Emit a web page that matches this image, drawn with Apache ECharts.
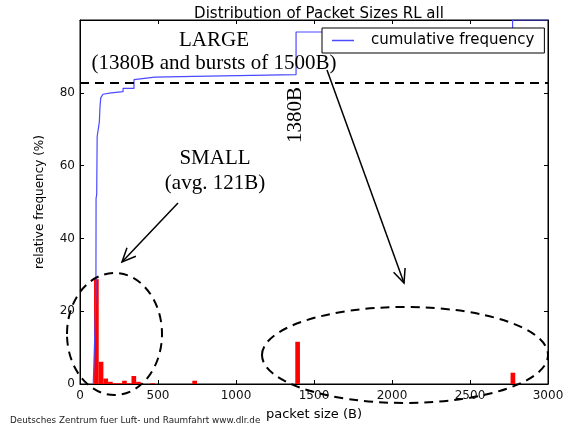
<!DOCTYPE html>
<html>
<head>
<meta charset="utf-8">
<script src="https://cdn.jsdelivr.net/npm/echarts@6/dist/echarts.min.js"></script>
<style>html,body{margin:0;padding:0;background:#fff}#c{width:576px;height:432px}</style>
</head>
<body>
<div id="c"></div>
<script>
// Histogram bins (packet size, B) and relative frequency (%)
var binWidth = 30;
var binStart = [90, 120, 150, 180, 210, 240, 270, 300, 330, 360, 450, 720, 1380, 2760];
var binHeight = [28.8, 6.1, 1.5, 0.6, 0.2, 0.2, 0.9, 0.2, 2.2, 0.6, 0.2, 0.9, 11.6, 3.1];
// Cumulative frequency curve
var cumX = [85, 96, 102, 103, 107, 110, 124, 128, 133, 147, 200, 276, 276, 346, 346, 480, 731, 731, 1385, 1385, 2773, 2773, 3000];
var cumY = [0, 15, 25, 51, 52, 68, 72, 76, 78.6, 79.6, 80, 80.3, 81.2, 81.2, 83.6, 84.3, 84.5, 85, 85, 96.7, 96.7, 100, 100];
var thresholdY = 82.7;
var xTicks = [0, 500, 1000, 1500, 2000, 2500, 3000];
var yTicks = [0, 20, 40, 60, 80];

var chart = echarts.init(document.getElementById('c'), null, {renderer: 'canvas'});

var barData = binStart.map(function (s, i) { return [s, s + binWidth, binHeight[i]]; });
var cumData = cumX.map(function (x, i) { return [x, cumY[i]]; });

function arrow(x1, y1, x2, y2) {
  var ang = Math.atan2(y2 - y1, x2 - x1);
  var L = 15, a = 0.42;
  var p1 = [x2 - L * Math.cos(ang - a), y2 - L * Math.sin(ang - a)];
  var p2 = [x2 - L * Math.cos(ang + a), y2 - L * Math.sin(ang + a)];
  var st = {stroke: '#000', lineWidth: 1.5, fill: null};
  return [
    {type: 'line', shape: {x1: x1, y1: y1, x2: x2, y2: y2}, style: st, z: 100},
    {type: 'polyline', shape: {points: [p1, [x2, y2], p2]}, style: st, z: 100}
  ];
}

var serif = 'Liberation Serif, Times New Roman, serif';
function serifText(t, x, y, z) {
  return {type: 'text', style: {text: t, x: x, y: y, font: '21px ' + serif, fill: '#000', align: 'center', verticalAlign: 'middle'}, z: z || 100};
}
var graphics = [
  serifText('LARGE', 214, 40),
  serifText('(1380B and bursts of 1500B)', 214, 63, 50),
  serifText('SMALL', 215, 158),
  serifText('(avg. 121B)', 215, 183),
  {type: 'text', x: 295, y: 115, rotation: Math.PI / 2, style: {text: '1380B', x: 0, y: 0, font: '21px ' + serif, fill: '#000', align: 'center', verticalAlign: 'middle'}, z: 100},
  {type: 'ellipse', shape: {cx: 114.5, cy: 334, rx: 47.5, ry: 61}, style: {stroke: '#000', lineWidth: 2, lineDash: [9, 6], fill: null}, z: 100},
  {type: 'ellipse', shape: {cx: 405, cy: 355, rx: 143, ry: 48}, style: {stroke: '#000', lineWidth: 2, lineDash: [9, 6], fill: null}, z: 100},
  {type: 'text', style: {text: 'Deutsches Zentrum fuer Luft- und Raumfahrt www.dlr.de', x: 10, y: 421, font: '8.8px DejaVu Sans', fill: '#222', align: 'left', verticalAlign: 'middle'}, z: 100}
].concat(arrow(178, 203, 122, 262)).concat(arrow(327, 70, 404, 283));

function axisBase() {
  return {
    axisLine: {show: true, onZero: false, lineStyle: {color: '#000', width: 1}},
    axisTick: {show: true, inside: true, length: 4, lineStyle: {color: '#000'}},
    splitLine: {show: false}
  };
}

var option = {
  animation: false,
  backgroundColor: '#fff',
  title: {text: 'Distribution of Packet Sizes RL all', left: 314, textAlign: 'center', top: 2,
    textStyle: {fontFamily: 'DejaVu Sans', fontSize: 15, fontWeight: 'normal', color: '#000'}},
  legend: {
    data: [{name: 'cumulative frequency', icon: 'rect'}],
    left: 322, top: 28, padding: [5, 10, 5, 10],
    itemWidth: 22, itemHeight: 1.5,
    backgroundColor: '#fff', borderColor: '#000', borderWidth: 1, borderRadius: 0,
    textStyle: {fontFamily: 'DejaVu Sans', fontSize: 15, color: '#000', padding: [0, 0, 0, 12]},
    z: 60
  },
  grid: {left: 80, right: 28, top: 20, bottom: 48, show: true, borderColor: '#000', borderWidth: 1},
  xAxis: [
    Object.assign(axisBase(), {type: 'value', min: 0, max: 3000, interval: 500, position: 'bottom',
      name: 'packet size (B)', nameLocation: 'middle', nameGap: 24,
      nameTextStyle: {fontFamily: 'DejaVu Sans', fontSize: 13, color: '#000'},
      axisLabel: {fontFamily: 'DejaVu Sans', fontSize: 12, color: '#111', margin: 6,
        formatter: function (v) { return xTicks.indexOf(v) >= 0 ? String(v) : ''; }}}),
    Object.assign(axisBase(), {type: 'value', min: 0, max: 3000, interval: 500, position: 'top', axisLabel: {show: false}})
  ],
  yAxis: [
    Object.assign(axisBase(), {type: 'value', min: 0, max: 100, interval: 20, position: 'left',
      name: 'relative frequency (%)', nameLocation: 'middle', nameGap: 34,
      nameTextStyle: {fontFamily: 'DejaVu Sans', fontSize: 12, color: '#000'},
      axisLabel: {fontFamily: 'DejaVu Sans', fontSize: 12, color: '#111', margin: 5,
        formatter: function (v) { return yTicks.indexOf(v) >= 0 ? String(v) : ''; }}}),
    Object.assign(axisBase(), {type: 'value', min: 0, max: 100, interval: 20, position: 'right', axisLabel: {show: false}})
  ],
  series: [
    {
      type: 'custom', name: 'histogram', data: barData, z: 2,
      renderItem: function (params, api) {
        var p0 = api.coord([api.value(0), 0]);
        var p1 = api.coord([api.value(1), api.value(2)]);
        return {type: 'rect', shape: {x: p0[0], y: p1[1], width: p1[0] - p0[0], height: p0[1] - p1[1]},
          style: {fill: '#ff0000'}};
      },
      clip: true
    },
    {
      type: 'line', name: 'cumulative frequency', data: cumData, z: 3,
      symbol: 'none', lineStyle: {color: '#4a4aff', width: 1.2}, itemStyle: {color: '#4a4aff'},
      clip: true,
      markLine: {
        silent: true, symbol: 'none', label: {show: false},
        lineStyle: {color: '#000', width: 2, type: [9, 6]},
        data: [{yAxis: thresholdY}]
      }
    }
  ],
  graphic: graphics
};
chart.setOption(option);
</script>
</body>
</html>
